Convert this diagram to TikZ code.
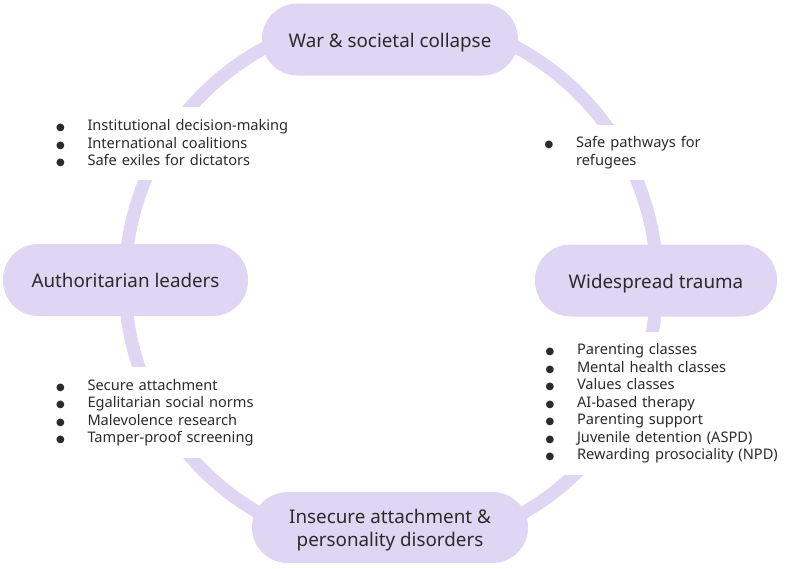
\documentclass[tikz,border=0pt]{standalone}
\usepackage{fontspec}
\setmainfont{Noto Sans}
\newfontfamily\dejavu{DejaVu Sans}
\definecolor{lav}{HTML}{DED6F3}
\definecolor{ink}{HTML}{2B2B2B}
\newcommand{\blt}{\makebox[32pt][l]{\hspace{0.5pt}{\dejavu\fontsize{10}{10}\selectfont ●}}}
\begin{document}
\begin{tikzpicture}[x=1pt,y=-1pt,
  pill/.style={fill=lav, rounded corners=35.5pt, minimum height=72pt, inner sep=0pt,
    text=ink, font=\fontsize{18.8}{23}\selectfont, align=center},
  onerow/.style={text height=19pt, text depth=4pt},
  listbox/.style={fill=white, inner ysep=0pt, text=ink, align=left,
    font=\fontsize{14.6}{17.5}\selectfont},
  ring/.style={draw=lav, line width=13pt}]
\useasboundingbox (0,0) rectangle (800,568);
\draw[ring] (391,282) circle (266pt);
% list boxes (white backgrounds that interrupt the ring)
\node[listbox, minimum width=255pt, minimum height=73pt, text width=238pt, inner xsep=11pt] (l1) at (174.5,143.5)
  {\blt Institutional decision-making\\
   \blt International coalitions\\
   \blt Safe exiles for dictators};
\node[listbox, minimum width=236pt, minimum height=55pt, text width=228pt, inner xsep=4pt] (l2) at (658,152.5)
  {\blt Safe pathways for\\
   \makebox[32pt][l]{}refugees};
\node[listbox, minimum width=255pt, minimum height=91pt, text width=238pt, inner xsep=11pt] (l3) at (174.5,412.5)
  {\blt Secure attachment\\
   \blt Egalitarian social norms\\
   \blt Malevolence research\\
   \blt Tamper-proof screening};
\node[listbox, minimum width=250pt, minimum height=143pt, text width=242pt, inner xsep=4pt] (l4) at (666,403.5)
  {\blt Parenting classes\\
   \blt Mental health classes\\
   \blt Values classes\\
   \blt AI-based therapy\\
   \blt Parenting support\\
   \blt Juvenile detention (ASPD)\\
   \blt Rewarding prosociality (NPD)};
% stage nodes
\node[pill, onerow, minimum width=256pt] (war) at (390,39.5) {War \& societal collapse};
\node[pill, onerow, minimum width=242pt] (trauma) at (656,280.5) {Widespread trauma};
\node[pill, onerow, minimum width=245pt] (auth) at (125.5,280) {Authoritarian leaders};
\node[pill, minimum width=276pt, minimum height=71pt, text depth=0pt] (insec) at (390,527.5)
  {Insecure attachment \&\\personality disorders};
\end{tikzpicture}
\end{document}
